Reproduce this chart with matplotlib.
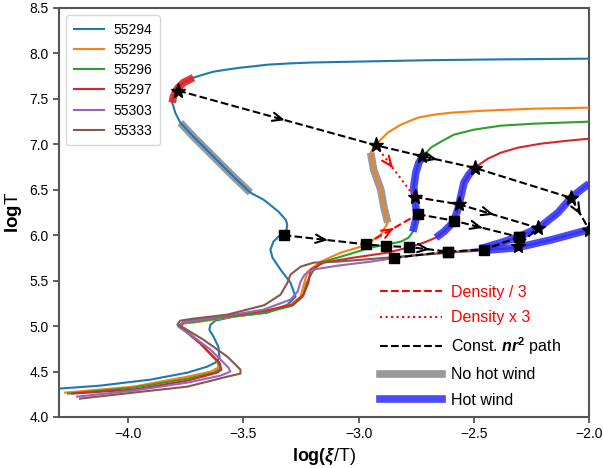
import matplotlib.pyplot as plt
from matplotlib.lines import Line2D

# S-curves: log(xi/T) vs logT
labels = ['55294', '55295', '55296', '55297', '55303', '55333']
colors = ['tab:blue', 'tab:orange', 'tab:green', 'tab:red', 'tab:purple', 'tab:brown']

x_55294 = [-4.300, -4.122, -3.904, -3.743, -3.657, -3.622, -3.604, -3.609, -3.630, -3.648,
           -3.643, -3.622, -3.543, -3.396, -3.309, -3.274, -3.296, -3.339, -3.374, -3.383,
           -3.370, -3.348, -3.326, -3.313, -3.310, -3.317, -3.348, -3.396, -3.413, -3.470,
           -3.543, -3.630, -3.717, -3.774, -3.796, -3.809, -3.804, -3.787, -3.761, -3.717,
           -3.670, -3.630, -3.570, -3.513, -3.450, -3.396, -3.300, -3.200, -2.961, -2.700,
           -2.400, -2.000]
y_55294 = [4.312, 4.345, 4.411, 4.488, 4.554, 4.598, 4.653, 4.774, 4.884, 4.961,
           5.016, 5.060, 5.104, 5.148, 5.236, 5.324, 5.478, 5.621, 5.753, 5.841,
           5.929, 5.984, 6.006, 6.061, 6.120, 6.171, 6.259, 6.358, 6.391, 6.468,
           6.644, 6.864, 7.084, 7.238, 7.348, 7.458, 7.524, 7.612, 7.678, 7.733,
           7.770, 7.799, 7.823, 7.843, 7.860, 7.876, 7.890, 7.900, 7.912, 7.925,
           7.934, 7.942]

x_55295 = [-4.274, -3.978, -3.743, -3.643, -3.609, -3.613, -3.687, -3.752, -3.770, -3.761,
           -3.717, -3.570, -3.413, -3.296, -3.252, -3.236, -3.222, -3.165, -3.078, -2.991,
           -2.948, -2.904, -2.874, -2.891, -2.904, -2.935, -2.948, -2.930, -2.917, -2.874,
           -2.817, -2.743, -2.674, -2.600, -2.457, -2.239, -2.000]
y_55295 = [4.268, 4.334, 4.444, 4.499, 4.543, 4.609, 4.818, 4.961, 4.994, 5.027,
           5.038, 5.093, 5.148, 5.236, 5.324, 5.478, 5.599, 5.709, 5.808, 5.874,
           5.929, 6.006, 6.138, 6.314, 6.501, 6.721, 6.908, 6.990, 7.017, 7.128,
           7.216, 7.293, 7.326, 7.348, 7.370, 7.392, 7.403]

x_55296 = [-4.261, -3.978, -3.743, -3.630, -3.600, -3.609, -3.687, -3.757, -3.774, -3.761,
           -3.709, -3.557, -3.404, -3.287, -3.243, -3.226, -3.200, -3.165, -3.048, -2.948,
           -2.883, -2.817, -2.783, -2.765, -2.752, -2.748, -2.752, -2.757, -2.761, -2.752,
           -2.739, -2.722, -2.687, -2.643, -2.587, -2.500, -2.383, -2.239, -2.000]
y_55296 = [4.257, 4.323, 4.422, 4.488, 4.532, 4.598, 4.807, 4.961, 4.994, 5.038,
           5.049, 5.104, 5.148, 5.225, 5.324, 5.478, 5.599, 5.698, 5.786, 5.863,
           5.896, 5.929, 5.973, 6.039, 6.171, 6.226, 6.314, 6.424, 6.534, 6.688,
           6.798, 6.864, 6.963, 7.029, 7.106, 7.161, 7.205, 7.227, 7.249]

x_55297 = [-4.243, -3.978, -3.743, -3.613, -3.596, -3.604, -3.687, -3.761, -3.778, -3.765,
           -3.709, -3.557, -3.404, -3.287, -3.239, -3.218, -3.209, -3.152, -3.022, -2.874,
           -2.787, -2.717, -2.665, -2.630, -2.591, -2.587, -2.570, -2.565, -2.557, -2.543,
           -2.522, -2.496, -2.439, -2.383, -2.309, -2.209, -2.091, -2.000]
y_55297 = [4.257, 4.301, 4.400, 4.488, 4.521, 4.598, 4.807, 4.961, 4.994, 5.038,
           5.071, 5.115, 5.170, 5.236, 5.346, 5.478, 5.621, 5.698, 5.753, 5.808,
           5.863, 5.918, 5.973, 6.039, 6.138, 6.160, 6.281, 6.336, 6.424, 6.578,
           6.666, 6.743, 6.842, 6.908, 6.963, 7.007, 7.040, 7.062]

x_55303 = [-4.222, -3.978, -3.743, -3.600, -3.557, -3.565, -3.643, -3.730, -3.783, -3.765,
           -3.717, -3.570, -3.413, -3.296, -3.265, -3.252, -3.235, -3.200, -3.091, -2.948,
           -2.774, -2.613, -2.470, -2.383, -2.304, -2.217, -2.135, -2.078, -2.035, -2.000]
y_55303 = [4.224, 4.290, 4.378, 4.455, 4.499, 4.543, 4.741, 4.906, 4.994, 5.038,
           5.060, 5.115, 5.181, 5.291, 5.379, 5.489, 5.566, 5.621, 5.665, 5.709,
           5.775, 5.808, 5.852, 5.918, 5.984, 6.083, 6.248, 6.413, 6.501, 6.567]

x_55333 = [-4.209, -3.978, -3.743, -3.570, -3.513, -3.513, -3.570, -3.674, -3.761, -3.787,
           -3.774, -3.717, -3.570, -3.410, -3.339, -3.309, -3.296, -3.252, -3.196, -3.091,
           -2.874, -2.613, -2.470, -2.313, -2.161, -2.000]
y_55333 = [4.202, 4.268, 4.334, 4.444, 4.477, 4.521, 4.664, 4.851, 4.983, 5.016,
           5.060, 5.082, 5.126, 5.230, 5.346, 5.478, 5.566, 5.654, 5.698, 5.709,
           5.753, 5.808, 5.830, 5.863, 5.951, 6.061]

curves_x = [x_55294, x_55295, x_55296, x_55297, x_55303, x_55333]
curves_y = [y_55294, y_55295, y_55296, y_55297, y_55303, y_55333]

# index ranges (curve, start, stop) of highlighted parts
no_hot_wind = [(0, 29, 34), (1, 22, 27)]
hot_wind = [(2, 23, 32), (3, 22, 32), (4, 22, 30), (5, 22, 26)]
red_part = [(0, 35, 40)]

# const nr^2 paths
star_path1_x = [-3.783, -2.926, -2.726, -2.496, -2.078, -2.000]
star_path1_y = [7.59, 6.99, 6.87, 6.74, 6.41, 6.06]
star_path2_x = [-2.757, -2.565, -2.222, -2.309]
star_path2_y = [6.42, 6.34, 6.08, 5.88]
sq_path1_x = [-3.326, -2.970, -2.883, -2.783, -2.613]
sq_path1_y = [6.00, 5.90, 5.88, 5.87, 5.82]
sq_path2_x = [-2.848, -2.613, -2.457, -2.304]
sq_path2_y = [5.75, 5.82, 5.84, 5.98]
sq_path3_x = [-2.743, -2.587, -2.304]
sq_path3_y = [6.23, 6.16, 5.98]

# density change arrows
dens_div3_x = [-2.970, -2.743]
dens_div3_y = [5.90, 6.23]
dens_x3_x = [-2.926, -2.757]
dens_x3_y = [6.99, 6.42]


def chevron(ax, xs, ys, i, frac=0.5, color='k'):
    x0 = xs[i] + frac * (xs[i + 1] - xs[i])
    y0 = ys[i] + frac * (ys[i + 1] - ys[i])
    dx = (xs[i + 1] - xs[i]) * 0.04
    dy = (ys[i + 1] - ys[i]) * 0.04
    ax.annotate('', xy=(x0 + dx, y0 + dy), xytext=(x0, y0),
                arrowprops=dict(arrowstyle='->,head_length=0.7,head_width=0.3',
                                color=color, lw=1.5, shrinkA=0, shrinkB=0),
                zorder=6)


plt.rcParams['font.family'] = ['Liberation Sans', 'DejaVu Sans']
plt.rcParams['mathtext.fontset'] = 'custom'
plt.rcParams['mathtext.rm'] = 'Liberation Sans'
plt.rcParams['mathtext.it'] = 'Liberation Sans:italic'
plt.rcParams['mathtext.bf'] = 'Liberation Sans:bold'
plt.rcParams['mathtext.bfit'] = 'Liberation Sans:bold:italic'

fig = plt.figure(figsize=(6.03, 4.68), dpi=100)
ax = fig.add_axes([0.098, 0.109, 0.879, 0.874])

for cx, cy, c, lab in zip(curves_x, curves_y, colors, labels):
    ax.plot(cx, cy, color=c, lw=1.5, label=lab, zorder=3)

for k, a, b in no_hot_wind:
    ax.plot(curves_x[k][a:b], curves_y[k][a:b], color='gray', lw=5.5, alpha=0.8,
            solid_capstyle='butt', zorder=2)
for k, a, b in hot_wind:
    ax.plot(curves_x[k][a:b], curves_y[k][a:b], color='#2b2bff', lw=5.5, alpha=0.85,
            solid_capstyle='butt', zorder=4)
for k, a, b in red_part:
    ax.plot(curves_x[k][a:b], curves_y[k][a:b], color='#e02020', lw=5.5, alpha=0.9,
            solid_capstyle='butt', zorder=4)

leg1 = ax.legend(loc='upper left', fontsize=10, handlelength=2.15, handletextpad=0.7,
                 borderpad=0.55, labelspacing=0.45)
ax.add_artist(leg1)

# dashed paths
for px, py in [(star_path1_x, star_path1_y), (star_path2_x, star_path2_y),
               (sq_path1_x, sq_path1_y), (sq_path2_x, sq_path2_y), (sq_path3_x, sq_path3_y)]:
    ax.plot(px, py, 'k--', lw=1.5, zorder=5)
ax.plot(star_path1_x, star_path1_y, 'k*', ms=11, zorder=7)
ax.plot(star_path2_x, star_path2_y, 'k*', ms=11, zorder=7)
for px, py in [(sq_path1_x, sq_path1_y), (sq_path2_x, sq_path2_y), (sq_path3_x, sq_path3_y)]:
    ax.plot(px, py, 'ks', ms=6.5, zorder=7)

chevron(ax, star_path1_x, star_path1_y, 0)
chevron(ax, star_path1_x, star_path1_y, 2, 0.25)
chevron(ax, star_path1_x, star_path1_y, 4)
chevron(ax, star_path2_x, star_path2_y, 1, 0.4)
chevron(ax, sq_path1_x, sq_path1_y, 0)
chevron(ax, sq_path1_x, sq_path1_y, 3)
chevron(ax, sq_path3_x, sq_path3_y, 1, 0.4)

ax.plot(dens_div3_x, dens_div3_y, color='red', ls='--', lw=1.5, zorder=5)
ax.plot(dens_x3_x, dens_x3_y, color='red', ls=':', lw=1.5, zorder=5)
chevron(ax, dens_div3_x, dens_div3_y, 0, 0.5, 'red')
chevron(ax, dens_x3_x, dens_x3_y, 0, 0.4, 'red')

handles = [Line2D([], [], color='red', ls='--', lw=1.5),
           Line2D([], [], color='red', ls=':', lw=1.5),
           Line2D([], [], color='k', ls='--', lw=1.5),
           Line2D([], [], color='gray', lw=5.5, alpha=0.8),
           Line2D([], [], color='#2b2bff', lw=5.5, alpha=0.85)]
names = ['Density / 3', 'Density x 3', r'Const. $\mathbfit{nr}^{\mathbf{2}}$ path',
         'No hot wind', 'Hot wind']
leg2 = ax.legend(handles, names, loc='lower right', bbox_to_anchor=(0.975, -0.012),
                 frameon=False, fontsize=11.5, handlelength=3.9, handletextpad=0.6,
                 labelspacing=0.64)
for t in leg2.get_texts()[:2]:
    t.set_color('red')

ax.set_xlim(-4.3, -2.0)
ax.set_ylim(4.0, 8.5)
ax.set_xticks([-4.0, -3.5, -3.0, -2.5, -2.0])
ax.set_yticks([4.0, 4.5, 5.0, 5.5, 6.0, 6.5, 7.0, 7.5, 8.0, 8.5])
ax.tick_params(labelsize=10, width=1.2, length=4, color='#444444')
for s in ax.spines.values():
    s.set_color('#555555')
    s.set_linewidth(1.5)
ax.set_xlabel(r'$\mathbf{log(}\boldsymbol{\xi}$/T)', fontsize=13)
ax.set_ylabel(r'$\mathbf{log}$T', fontsize=13.5)

plt.savefig('out.png', dpi=100)
